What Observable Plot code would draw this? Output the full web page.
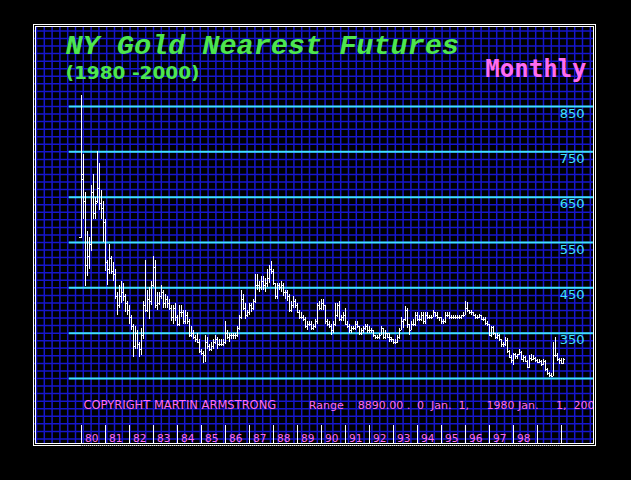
<!DOCTYPE html>
<html><head><meta charset="utf-8">
<script src="https://cdn.jsdelivr.net/npm/d3@7"></script>
<script src="https://cdn.jsdelivr.net/npm/@observablehq/plot@0.6"></script>
<style>html,body{margin:0;padding:0;background:#000;}#chart{width:631px;height:480px;}</style>
</head><body><div id="chart"></div>
<script>
// ---- Data: NY Gold nearest futures, monthly OHLC, Jan 1980 .. Feb 2000 ----
const startYear = 1980;
const open = [
 560,690,640,500,520,545,660,615,640,670,635,625, // 1980
 595,505,490,515,485,480,430,410,430,440,430,415, // 1981
 400,385,365,320,350,325,315,345,410,400,425,420, // 1982
 455,495,410,415,430,440,415,425,415,405,385,405, // 1983
 385,370,395,395,375,390,375,345,350,340,335,330, // 1984
 310,305,300,330,320,315,320,330,335,325,325,325, // 1985
 330,350,340,345,345,345,345,360,385,425,405,390, // 1986
 395,410,405,420,455,455,450,465,455,460,470,490, // 1987
 487,460,430,455,450,455,440,440,430,400,410,420, // 1988
 410,395,385,385,380,365,370,370,360,365,375,410, // 1989
 405,415,410,375,370,365,355,370,390,410,380,385, // 1990
 390,370,365,355,360,360,370,365,350,355,360,365, // 1991
 355,355,355,345,340,340,345,360,340,350,350,340, // 1992
 335,330,330,340,355,375,380,400,370,355,370,370, // 1993
 390,380,380,390,375,390,385,385,385,395,390,385, // 1994
 385,375,375,390,390,385,385,385,385,385,385,390, // 1995
 390,405,400,395,395,390,385,385,388,380,380,372, // 1996
 370,345,362,350,340,345,335,325,325,333,310,297, // 1997
 290,303,298,302,308,293,297,288,274,294,292,294, // 1998
 289,286,288,280,287,269,262,256,255,300,300,292, // 1999
 290,284                                          // 2000
];
const high = [
 875,745,660,575,560,675,700,650,750,725,665,640,
 600,510,545,520,505,490,440,455,465,460,435,420,
 410,390,370,365,355,330,360,420,511,445,450,465,
 520,510,440,440,455,445,435,430,425,410,410,415,
 390,410,410,400,400,395,380,365,355,345,350,335,
 315,310,345,340,325,330,335,345,340,335,335,335,
 375,355,350,350,350,350,365,390,445,435,415,400,
 415,415,425,480,480,465,475,475,470,490,500,507,
 490,460,460,460,465,460,445,445,435,420,430,425,
 415,400,395,390,385,375,375,375,370,380,415,420,
 425,425,410,380,375,370,375,415,415,420,390,395,
 405,375,370,365,365,375,375,365,360,365,370,370,
 365,360,355,345,345,350,365,360,355,350,350,340,
 335,335,345,360,385,380,409,405,370,375,380,395,
 395,390,395,395,395,395,390,390,400,395,395,385,
 385,380,395,395,395,390,390,390,390,390,390,395,
 419,418,400,400,396,392,390,392,390,385,385,375,
 370,365,365,350,350,348,337,330,340,338,312,300,
 305,305,303,315,310,300,298,289,300,302,300,297,
 293,292,290,292,290,271,263,260,330,340,305,295,
 295,295
];
const low = [
 559,600,453,475,490,530,600,600,635,620,600,550,
 485,455,480,480,465,425,390,405,415,420,395,390,
 370,355,297,315,315,296,300,335,395,395,380,410,
 450,405,400,410,425,405,405,405,400,375,370,375,
 365,365,385,370,370,370,340,340,335,330,330,305,
 300,284,285,315,310,310,315,325,315,320,320,320,
 325,335,330,335,335,335,340,355,380,400,380,385,
 390,395,400,415,445,440,445,445,440,450,460,480,
 455,425,425,445,440,430,425,420,395,395,405,405,
 395,380,380,375,360,355,365,355,355,360,370,400,
 400,400,370,365,360,345,350,365,385,375,375,375,
 370,360,350,350,355,355,360,345,345,350,355,350,
 350,350,340,335,335,335,345,335,335,340,330,330,
 326,326,327,335,355,360,375,360,345,355,365,365,
 375,375,375,370,370,380,380,380,385,385,380,375,
 370,370,372,385,380,380,380,380,380,380,380,385,
 390,395,392,390,388,380,380,383,377,376,368,365,
 342,340,345,337,337,332,318,318,320,305,295,282,
 278,292,291,300,290,286,286,272,272,288,290,285,
 283,283,277,278,266,257,252,252,254,296,288,280,
 281,281
];
const close = [
 700,640,500,520,545,660,615,635,670,635,625,595,
 505,490,515,485,480,430,410,430,440,430,415,400,
 385,365,320,350,325,315,345,410,400,425,420,455,
 495,410,415,430,440,415,425,415,405,385,405,385,
 370,395,395,375,390,375,345,350,340,335,330,310,
 305,300,330,320,315,320,330,335,325,325,325,330,
 350,340,345,345,345,345,360,385,425,405,390,395,
 410,405,420,455,455,450,465,455,460,470,490,487,
 460,430,455,450,455,440,440,430,400,410,420,410,
 395,385,385,380,365,370,370,360,365,375,410,405,
 415,410,375,370,365,355,370,390,410,380,385,390,
 370,365,355,360,360,370,365,350,355,360,365,355,
 355,355,345,340,340,345,360,340,350,340,335,335,
 330,330,340,355,375,380,400,370,355,370,370,390,
 380,380,390,375,390,385,385,385,395,390,385,385,
 375,375,390,390,385,385,385,385,385,385,390,390,
 405,400,395,395,390,385,385,388,380,380,372,370,
 345,362,350,340,345,335,325,325,333,310,297,290,
 303,298,302,308,293,297,288,274,294,292,294,289,
 286,288,280,287,269,262,256,255,300,300,292,290,
 284,292
];
const priceLevels = [850, 750, 650, 550, 450, 350, 250];
const priceLabels = [850, 750, 650, 550, 450, 350];
const tickYears = d3.range(1980, 2001);
const yearLabels = ["80","81","82","83","84","85","86","87","88","89","90","91","92","93","94","95","96","97","98"];
const labelYears = d3.range(1980, 1999);
const titleText = "NY Gold Nearest Futures";
const subtitleText = "(1980 -2000)";
const periodText = "Monthly";
const copyrightText = "COPYRIGHT MARTIN ARMSTRONG";
const rangeText = "Range\u00a0\u00a0\u00a0\u00a08890.00\u00a0.\u00a0\u00a00\u00a0\u00a0Jan.\u00a0\u00a01,\u00a0\u00a0\u00a0\u00a0\u00a01980\u00a0Jan.\u00a0\u00a0\u00a0\u00a0\u00a01,\u00a0\u00a02000";

// ---- Build table ----
const bars = open.map((o, i) => ({t: startYear + i / 12, o, h: high[i], l: low[i], c: close[i]}));
const tickLen = 1 / 12;
const gridX = d3.range(0, 72).map(k => 1978.125 + k * 0.325);
const gridY = d3.range(-10, 45).map(k => 850 - k * 100 / 6);

const GREEN = "#4de64d", PINK = "#ff6cf0", CYAN = "#3fe0ff", BLUE = "#1616cc";

const plot = Plot.plot({
  width: 631, height: 480,
  marginLeft: 35, marginRight: 38, marginTop: 26, marginBottom: 37,
  x: {domain: [1980, 2000], range: [81, 561], axis: null},
  y: {domain: [250, 850], range: [378, 106], axis: null},
  style: {background: "#000", overflow: "visible"},
  marks: [
    Plot.ruleX(gridX, {stroke: BLUE, strokeWidth: 1.5}),
    Plot.ruleY(gridY, {x1: 1978.03, x2: 2001.33, stroke: BLUE, strokeWidth: 1.5}),
    Plot.ruleY(priceLevels, {x1: 1979.49, x2: 2001.33, stroke: CYAN, strokeWidth: 2}),
    Plot.ruleX(tickYears, {stroke: "white", strokeWidth: 1, insetTop: 399, shapeRendering: "crispEdges"}),
    Plot.ruleX(bars, {x: "t", y1: "l", y2: "h", stroke: "white", strokeWidth: 1, shapeRendering: "crispEdges"}),
    Plot.ruleY(bars, {y: "o", x1: d => d.t - tickLen, x2: "t", stroke: "white", strokeWidth: 1, shapeRendering: "crispEdges"}),
    Plot.ruleY(bars, {y: "c", x1: "t", x2: d => d.t + tickLen, stroke: "white", strokeWidth: 1, shapeRendering: "crispEdges"}),
    Plot.text(priceLabels, {y: d => d, text: d => String(d), frameAnchor: "right", dx: -9, dy: 11, lineAnchor: "bottom", textAnchor: "end", fill: CYAN, fontFamily: "DejaVu Sans", fontSize: 13}),
    Plot.text(yearLabels, {x: (d, i) => labelYears[i], text: d => d, frameAnchor: "bottom", dx: 3.5, dy: -1.5, lineAnchor: "bottom", textAnchor: "start", fill: PINK, fontFamily: "DejaVu Sans", fontSize: 10.5}),
    Plot.text([titleText], {frameAnchor: "top-left", dx: 30, dy: 27, lineAnchor: "bottom", textAnchor: "start", fill: GREEN, fontFamily: "Liberation Mono", fontWeight: "bold", fontStyle: "italic", fontSize: 28.5}),
    Plot.text([subtitleText], {frameAnchor: "top-left", dx: 30, dy: 52.5, lineAnchor: "bottom", textAnchor: "start", fill: GREEN, fontFamily: "DejaVu Sans", fontWeight: "bold", fontSize: 18.5}),
    Plot.text([periodText], {frameAnchor: "top-right", dx: -7, dy: 50, lineAnchor: "bottom", textAnchor: "end", fill: PINK, fontFamily: "DejaVu Sans Mono", fontWeight: "bold", fontSize: 24}),
    Plot.text([copyrightText], {frameAnchor: "bottom-left", dx: 48, dy: -35, lineAnchor: "bottom", textAnchor: "start", fill: PINK, fontFamily: "DejaVu Sans", fontSize: 11.5}),
    Plot.text([rangeText], {frameAnchor: "bottom-left", dx: 273.3, dy: -35, lineAnchor: "bottom", textAnchor: "start", fill: PINK, fontFamily: "DejaVu Sans", fontSize: 11, clip: "frame"}),
    Plot.frame({stroke: "white", strokeWidth: 1}),
    Plot.frame({stroke: "white", strokeWidth: 1, inset: -2}),
    Plot.ruleY([850], {x1: 1980, x2: 2000, dy: 339.5, stroke: "#000", strokeWidth: 1, strokeDasharray: "1 1"})
  ]
});
document.getElementById("chart").append(plot);
</script>
</body></html>
